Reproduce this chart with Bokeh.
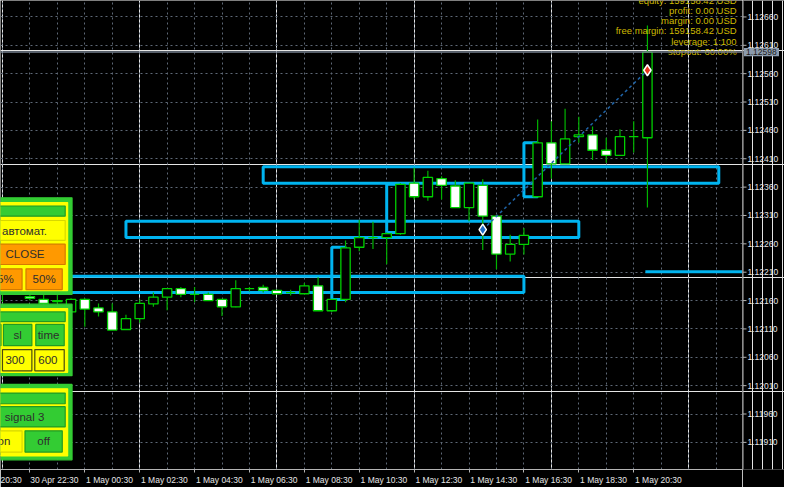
from bokeh.plotting import figure
from bokeh.layouts import row
from bokeh.models import (Range1d, FixedTicker, LinearAxis, Span, Grid, ColumnDataSource)
from bokeh.core.properties import value
from bokeh.embed import file_html
from bokeh.resources import INLINE

# ---------------- data (EURUSD M30, bar 0 = 30 Apr 21:30) ----------------
bar_open = [1.12178, 1.12172, 1.12167, 1.12162, 1.12158, 1.12140, 1.12162, 1.12147,
            1.12140, 1.12109, 1.12128, 1.12154, 1.12166, 1.12181, 1.12171, 1.12171,
            1.12162, 1.12149, 1.12181, 1.12183, 1.12178, 1.12174, 1.12172, 1.12186,
            1.12142, 1.12162, 1.12254, 1.12271, 1.12271, 1.12278, 1.12367, 1.12343,
            1.12375, 1.12362, 1.12324, 1.12363, 1.12309, 1.12242, 1.12259, 1.12343,
            1.12438, 1.12401, 1.12449, 1.12452, 1.12425, 1.12416, 1.12449, 1.12447]
bar_high = [1.12186, 1.12181, 1.12172, 1.12171, 1.12171, 1.12164, 1.12164, 1.12155,
            1.12155, 1.12135, 1.12162, 1.12174, 1.12181, 1.12184, 1.12184, 1.12174,
            1.12162, 1.12196, 1.12184, 1.12188, 1.12179, 1.12179, 1.12191, 1.12201,
            1.12162, 1.12266, 1.12302, 1.12299, 1.12280, 1.12367, 1.12394, 1.12389,
            1.12379, 1.12372, 1.12367, 1.12374, 1.12309, 1.12276, 1.12288, 1.12479,
            1.12476, 1.12498, 1.12484, 1.12467, 1.12447, 1.12462, 1.12476, 1.12645]
bar_low = [1.12157, 1.12170, 1.12160, 1.12152, 1.12155, 1.12138, 1.12114, 1.12132,
           1.12108, 1.12109, 1.12121, 1.12149, 1.12143, 1.12166, 1.12157, 1.12160,
           1.12133, 1.12148, 1.12176, 1.12174, 1.12171, 1.12169, 1.12172, 1.12142,
           1.12140, 1.12157, 1.12247, 1.12251, 1.12224, 1.12276, 1.12338, 1.12336,
           1.12338, 1.12324, 1.12300, 1.12249, 1.12215, 1.12229, 1.12241, 1.12343,
           1.12375, 1.12401, 1.12438, 1.12408, 1.12403, 1.12416, 1.12421, 1.12324]
bar_close = [1.12172, 1.12176, 1.12164, 1.12155, 1.12160, 1.12162, 1.12145, 1.12140,
             1.12108, 1.12128, 1.12155, 1.12166, 1.12181, 1.12171, 1.12171, 1.12160,
             1.12149, 1.12181, 1.12181, 1.12178, 1.12172, 1.12174, 1.12186, 1.12142,
             1.12162, 1.12253, 1.12271, 1.12271, 1.12278, 1.12365, 1.12343, 1.12377,
             1.12363, 1.12324, 1.12367, 1.12309, 1.12242, 1.12259, 1.12275, 1.12438,
             1.12401, 1.12445, 1.12452, 1.12425, 1.12416, 1.12449, 1.12449, 1.12598]

time_tick_index = [2, 6, 10, 14, 18, 22, 26, 30, 34, 38, 42, 46]
time_tick_labels = ["30 Apr 22:30", "1 May 00:30", "1 May 02:30", "1 May 04:30",
                    "1 May 06:30", "1 May 08:30", "1 May 10:30", "1 May 12:30",
                    "1 May 14:30", "1 May 16:30", "1 May 18:30", "1 May 20:30"]
prev_time_label = "20:30"          # visible tail of "30 Apr 20:30"
price_ticks = [1.11910, 1.11960, 1.12010, 1.12060, 1.12110, 1.12160, 1.12210, 1.12260,
               1.12310, 1.12360, 1.12410, 1.12460, 1.12510, 1.12560, 1.12610, 1.12660]

zone_left = [19, 9, -1, 24, 28, 38]
zone_right = [52.2, 42, 38, 25, 29, 39]
zone_top = [1.12396, 1.12300, 1.12203, 1.12254, 1.12365, 1.12438]
zone_bottom = [1.12367, 1.12271, 1.12174, 1.12162, 1.12280, 1.12343]

level_start = [46.85]
level_price = [1.12211]

trade_index = [35, 47]
trade_price = [1.12285, 1.12566]

account_lines = ["equity: 159158.42 USD", "profit: 0.00 USD", "margin: 0.00 USD",
                 "free margin: 159158.42 USD", "leverage: 1:100", "stopout: 60.00%"]

# ---------------- reference-pixel helpers for the overlay layout ----------------
def X(px):
    return (px - 2.0) / 14.0

def Y(py):
    return 1.12660 - (py - 17.0) * 0.0005 / 29.33

FONT = "Liberation Sans"
AXC = "#B4B4B4"
LBL = "#E6E6E6"

yr = Range1d(Y(485), Y(0))
p = figure(width=742, height=487, x_range=Range1d(X(0), X(757)), y_range=yr,
           output_backend="svg", toolbar_location=None, x_axis_location=None, y_axis_location=None,
           min_border=0, min_border_bottom=18,
           background_fill_color="black", border_fill_color="black", outline_line_color=None)

# time axis (labels start right of their tick, as in the terminal)
shift = 1.8
label_pos = [X(10)] + [t + shift for t in time_tick_index]
all_labels = [prev_time_label] + time_tick_labels
xax = LinearAxis(ticker=FixedTicker(ticks=label_pos, minor_ticks=time_tick_index))
xax.major_label_overrides = {pos: lab for pos, lab in zip(label_pos, all_labels)}
xax.axis_line_color = AXC
xax.major_tick_line_color = None
xax.major_tick_out = 0
xax.major_tick_in = 0
xax.minor_tick_line_color = AXC
xax.minor_tick_out = 3
xax.minor_tick_in = 0
xax.major_label_standoff = 2
xax.major_label_text_color = LBL
xax.major_label_text_font = FONT
xax.major_label_text_font_size = "8.5px"
p.add_layout(xax, "below")

# grids
grid_x = list(range(0, 54, 2))
p.add_layout(Grid(dimension=0, ticker=FixedTicker(ticks=grid_x), grid_line_color="#5E6876",
                  grid_line_dash="2 3", grid_line_width=1))
p.add_layout(Grid(dimension=1, ticker=FixedTicker(ticks=price_ticks), grid_line_color="#5E6876",
                  grid_line_dash="2 3", grid_line_width=1))

# current price line
p.add_layout(Span(location=bar_close[-1], dimension="width", line_color="#76818F", line_width=1.5))

# zones
p.quad(left=zone_left, right=zone_right, top=zone_top, bottom=zone_bottom,
       fill_color=None, line_color="#00B4F0", line_width=3)
p.segment(x0=level_start, y0=level_price, x1=[X(757)], y1=level_price,
          line_color="#00B4F0", line_width=3)

# candles
idx = list(range(len(bar_open)))
src = ColumnDataSource(dict(
    x=idx, high=bar_high, low=bar_low,
    top=[max(o, c) for o, c in zip(bar_open, bar_close)],
    bottom=[min(o, c) for o, c in zip(bar_open, bar_close)],
    fill=["white" if c < o else "black" for o, c in zip(bar_open, bar_close)]))
p.segment(x0="x", y0="high", x1="x", y1="low", source=src, line_color="#00B400", line_width=1.2)
p.vbar(x="x", width=0.68, top="top", bottom="bottom", fill_color="fill", line_color="#00D000",
       line_width=1.3, source=src)

# trade history
p.line(trade_index, trade_price, line_color="#1F64A8", line_dash="3 3", line_width=1.5)
p.scatter([trade_index[0]], [trade_price[0]], marker="diamond", size=11, fill_color="#1E6EC8",
          line_color="white", line_width=1.5)
p.scatter([trade_index[1]], [trade_price[1]], marker="diamond", size=11, fill_color="#E8361E",
          line_color="white", line_width=1.5)

# account info (top right)
acc_base = [-0.5, 10.2, 20.9, 31.5, 42.1, 52.7]
p.text(x=[X(751)] * len(account_lines), y=[Y(b) for b in acc_base], text=account_lines,
       text_align="right", text_baseline="alphabetic", text_color="#CDB800",
       text_font=value(FONT), text_font_size="9.5px")

# ---------------- control panels (left) ----------------
G, GD, YL, YD, OR, ORD = "#33CC33", "#229A22", "#FFFF00", "#D8D800", "#FF9900", "#D47A00"
panel_boxes = [
    # panel 1
    (-20, 204, 73, 304, G, G), (-20, 209, 68.5, 300, YL, YL), (-20, 212.5, 66, 223, G, GD),
    (-20, 227.5, 66, 248, YL, YD), (-20, 252, 66, 273, OR, ORD),
    (-20, 277.5, 22, 299, OR, ORD), (26, 277.5, 63, 299, OR, ORD),
    # panel 2
    (-20, 314, 73, 388, G, G), (-20, 318.5, 68.5, 384.5, YL, YL), (-20, 322, 66, 332, G, GD),
    (-20, 335, 0.5, 357, G, GD), (3, 335, 32, 357, G, GD), (36, 335, 65, 357, G, GD),
    (2, 361, 32, 383, YL, "#4A4A10"), (35, 361, 65, 383, YL, "#4A4A10"),
    # panel 3
    (-20, 397, 73, 475, G, G), (-20, 401.5, 68.5, 471, YL, YL), (-20, 406, 66, 417, G, GD),
    (-20, 420, 66, 441, G, GD), (-20, 445, 22, 467, YL, YD), (25, 445, 63, 467, G, GD),
]
p.quad(left=[X(b[0]) for b in panel_boxes], right=[X(b[2]) for b in panel_boxes],
       top=[Y(b[1]) for b in panel_boxes], bottom=[Y(b[3]) for b in panel_boxes],
       fill_color=[b[4] for b in panel_boxes], line_color=[b[5] for b in panel_boxes],
       line_width=1.2)

panel_texts = [("автомат.", 24.5, 238, "center"), ("CLOSE", 25, 262.5, "center"),
               ("5%", 13.5, 288, "right"), ("50%", 44.5, 288, "center"),
               ("sl", 17.5, 346, "center"), ("time", 49, 346, "center"),
               ("300", 5, 372, "left"), ("600", 38.5, 372, "left"),
               ("signal 3", 24.5, 430.5, "center"), ("on", 3.5, 456, "center"),
               ("off", 44, 456, "center")]
for t, tx, ty, al in panel_texts:
    p.text(x=[X(tx)], y=[Y(ty)], text=[t], text_align=al, text_baseline="middle",
           text_color="#2E2E2E", text_font=value(FONT), text_font_size="11.5px")

# ---------------- price scale column (shares the price range) ----------------
q = figure(width=42, height=487, x_range=Range1d(0, 42), y_range=yr,
           output_backend="svg", toolbar_location=None, x_axis_location=None, y_axis_location=None,
           min_border=0, min_border_bottom=18,
           background_fill_color="black", border_fill_color="black", outline_line_color=None)
n = len(price_ticks)
q.segment(x0=[0.5], y0=[yr.start], x1=[0.5], y1=[yr.end], line_color=AXC, line_width=1)
q.segment(x0=[0] * n, y0=price_ticks, x1=[4] * n, y1=price_ticks, line_color=AXC, line_width=1)
q.text(x=[5] * n, y=price_ticks, text=[f"{v:.5f}" for v in price_ticks], text_align="left",
       text_baseline="middle", text_color=LBL, text_font=value(FONT), text_font_size="8.5px")
half = 4.3 * 0.0005 / 29.33
q.quad(left=[1.3], right=[36.5], top=[bar_close[-1] + half], bottom=[bar_close[-1] - half],
       fill_color="#8C9BAD", line_color=None)
q.text(x=[3.5], y=[bar_close[-1]], text=[f"{bar_close[-1]:.5f}"], text_align="left",
       text_baseline="middle", text_color="#1A1A1A", text_font=value(FONT), text_font_size="8.5px")

layout = row(p, q)
open("out.html", "w").write(file_html(layout, INLINE))
